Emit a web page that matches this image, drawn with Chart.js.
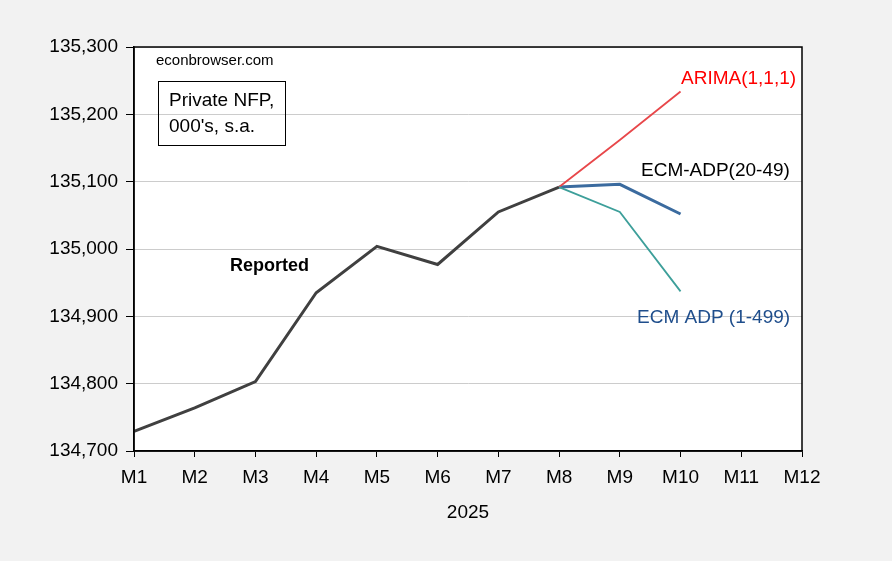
<!DOCTYPE html>
<html>
<head>
<meta charset="utf-8">
<script src="https://cdn.jsdelivr.net/npm/chart.js@4/dist/chart.umd.min.js"></script>
<style>
  html, body { margin: 0; padding: 0; background: #f2f2f2; }
  #wrap { width: 892px; height: 561px; }
</style>
</head>
<body>
<div id="wrap"><canvas id="nfpChart"></canvas></div>
<script>
const months = ["M1", "M2", "M3", "M4", "M5", "M6", "M7", "M8", "M9", "M10", "M11", "M12"];
const reported = [134729, 134764, 134803, 134935, 135004, 134977, 135055, 135092, null, null, null, null];
const arima = [null, null, null, null, null, null, null, 135092, 135162, 135234, null, null];
const ecmAdp2049 = [null, null, null, null, null, null, null, 135092, 135096, 135052, null, null];
const ecmAdp1499 = [null, null, null, null, null, null, null, 135092, 135055, 134937, null, null];
const yTicks = [134700, 134800, 134900, 135000, 135100, 135200, 135300];

const FONT = "'Liberation Sans', Arial, sans-serif";

// frame, backgrounds and text labels
const decor = {
  id: "decor",
  beforeDraw(chart) {
    const c = chart.ctx, a = chart.chartArea;
    c.save();
    c.fillStyle = "#f2f2f2";
    c.fillRect(0, 0, chart.width, chart.height);
    c.fillStyle = "#ffffff";
    c.fillRect(a.left, a.top, a.right - a.left, a.bottom - a.top);
    c.restore();
  },
  afterDraw(chart) {
    const c = chart.ctx, a = chart.chartArea;
    c.save();
    c.strokeStyle = "#000";
    c.lineWidth = 1.5;
    c.strokeRect(a.left, a.top, a.right - a.left, a.bottom - a.top);

    c.textBaseline = "middle";
    c.textAlign = "left";
    c.fillStyle = "#000";
    c.font = "15px " + FONT;
    c.fillText("econbrowser.com", 156, 61);

    c.lineWidth = 1;
    c.strokeRect(158.5, 81.5, 127, 64);
    c.font = "19px " + FONT;
    c.fillText("Private NFP,", 169, 101);
    c.fillText("000's, s.a.", 169, 127);

    c.fillStyle = "#ff0000";
    c.fillText("ARIMA(1,1,1)", 681, 79);
    c.fillStyle = "#000";
    c.fillText("ECM-ADP(20-49)", 641, 171);
    c.fillStyle = "#1f4e8c";
    c.fillText("ECM ADP (1-499)", 637, 318);
    c.fillStyle = "#000";
    c.font = "bold 18px " + FONT;
    c.fillText("Reported", 230, 266);
    c.restore();
  }
};

const ctx = document.getElementById("nfpChart").getContext("2d");

new Chart(ctx, {
  type: "line",
  data: {
    labels: months,
    datasets: [
      { label: "ECM ADP (1-499)", data: ecmAdp1499, borderColor: "#3d9f9a", borderWidth: 1.8 },
      { label: "ARIMA(1,1,1)", data: arima, borderColor: "#e8474a", borderWidth: 1.8 },
      { label: "ECM-ADP(20-49)", data: ecmAdp2049, borderColor: "#3b6b9f", borderWidth: 3 },
      { label: "Reported", data: reported, borderColor: "#404040", borderWidth: 3 }
    ]
  },
  options: {
    responsive: true,
    maintainAspectRatio: false,
    animation: false,
    elements: { point: { radius: 0 }, line: { tension: 0 } },
    layout: { padding: { top: 47, right: 90, left: 0, bottom: 0 } },
    plugins: {
      legend: { display: false },
      tooltip: { enabled: false }
    },
    scales: {
      x: {
        offset: false,
        grid: { drawOnChartArea: false, drawTicks: true, tickLength: 6, tickColor: "#000", offset: false },
        border: { color: "#000", width: 1.5 },
        ticks: { color: "#000", font: { size: 19, family: FONT }, padding: 9, maxRotation: 0, autoSkip: false },
        title: { display: true, text: "2025", color: "#000", font: { size: 19, family: FONT }, padding: { top: 4, bottom: 37 } },
        afterFit(scale) { scale.height = 110; }
      },
      y: {
        min: 134700,
        max: 135300,
        afterBuildTicks(scale) { scale.ticks = yTicks.map(v => ({ value: v })); },
        grid: { color: "#cccccc", tickColor: "#000", tickLength: 8 },
        border: { color: "#000", width: 1.5 },
        ticks: {
          color: "#000",
          font: { size: 19, family: FONT },
          padding: 8,
          callback: v => v.toLocaleString("en-US")
        },
        afterFit(scale) { scale.width = 134; }
      }
    }
  },
  plugins: [decor]
});
</script>
</body>
</html>
